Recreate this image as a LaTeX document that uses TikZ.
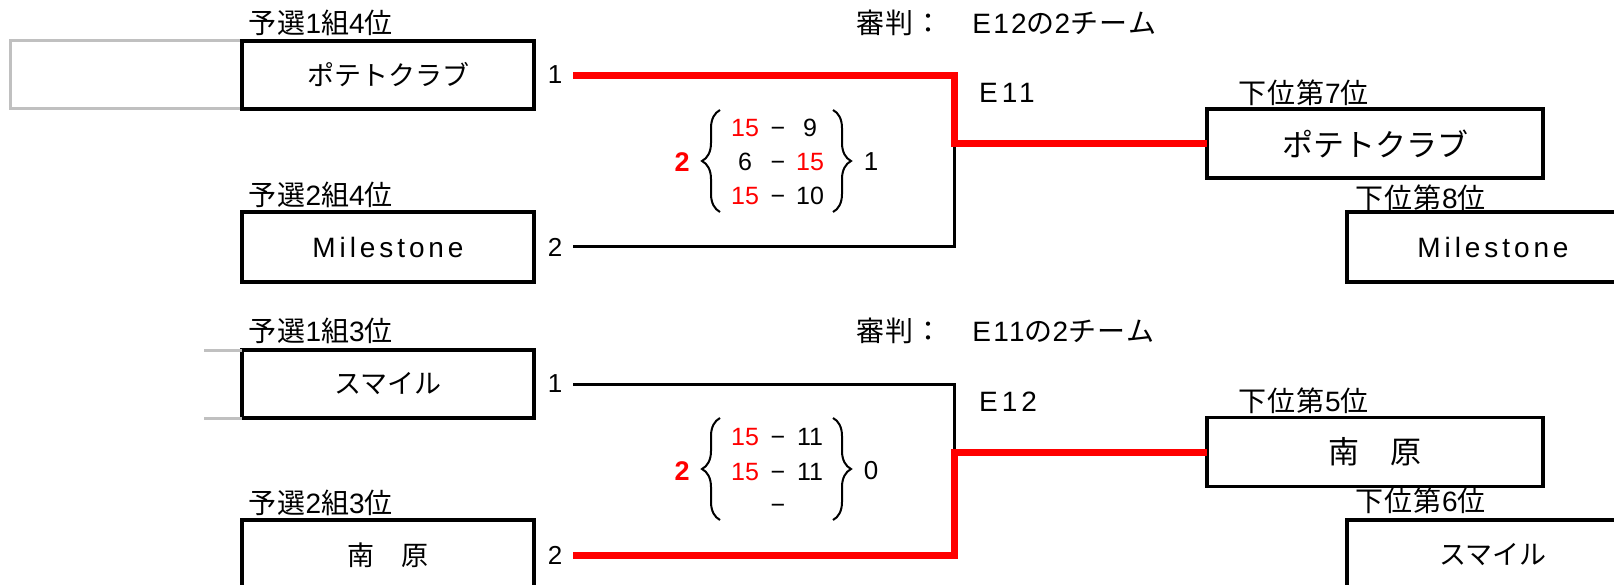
\documentclass[tikz,border=0pt]{standalone}
\usepackage{fontspec}
\setmainfont{Noto Sans CJK JP}
\newfontfamily\jlbl{Noto Sans CJK JP}[LetterSpace=5]
\newfontfamily\latf{Liberation Sans}[LetterSpace=8]
\newfontfamily\latw{Liberation Sans}[LetterSpace=14]
\newfontfamily\scf{Liberation Sans}
\usetikzlibrary{decorations.pathreplacing,calc}
\definecolor{xred}{RGB}{255,0,0}
\definecolor{xgray}{RGB}{192,192,192}
\tikzset{
  teambox/.style={draw=black, line width=3.5pt, rectangle, inner sep=0pt, outer sep=0pt,
    minimum width=292pt, minimum height=68pt, line join=miter, font=\fontsize{27}{31}\selectfont},
  winbox/.style={teambox, minimum width=336pt, minimum height=69pt, font=\fontsize{31}{35}\selectfont},
  latbox/.style={teambox, font=\latw\fontsize{28}{32}\selectfont},
  graybox/.style={draw=xgray, line width=3pt, rectangle, inner sep=0pt, outer sep=0pt, line join=miter},
  grayline/.style={draw=xgray, line width=3pt},
  lbl/.style={anchor=west, inner sep=0pt, font=\jlbl\fontsize{28}{32}\selectfont},
  latlbl/.style={anchor=west, inner sep=0pt, font=\latw\fontsize{28}{32}\selectfont},
  num/.style={inner sep=0pt, font=\scf\fontsize{26}{30}\selectfont},
  sc/.style={inner sep=0pt, anchor=base, font=\scf\fontsize{25}{28}\selectfont},
  winnum/.style={inner sep=0pt, text=xred, font=\scf\bfseries\fontsize{27}{30}\selectfont},
  redline/.style={draw=xred, line width=7pt, line join=miter},
  blkline/.style={draw=black, line width=3pt, line join=miter},
  bracel/.style={decorate, decoration={brace, amplitude=18pt}, line width=2pt},
}
\begin{document}
\begin{tikzpicture}[x=1pt,y=-1pt]
\useasboundingbox (0,0) rectangle (1614,585);
\clip (0,0) rectangle (1614,585);
\fill[white] (0,0) rectangle (1614,585);

% ---------------- top half ----------------
\node[graybox, minimum width=232pt, minimum height=68pt] (g0) at (126,75) {};
\node[lbl] (l1) at (248,23) {予選{\latf 1}組{\latf 4}位};
\node[teambox] (b1) at (388,75) {ポテトクラブ};
\node[lbl] (l2) at (248,195) {予選{\latf 2}組{\latf 4}位};
\node[latbox, minimum height=70pt] (b2) at (388,247) {Milestone};

\node[num] (n1) at ($(b1.east)+(21,0)$) {1};
\node[num] (n2) at ($(b2.east)+(21,0)$) {2};
\coordinate (s1) at ($(b1.east)+(39,1)$);
\coordinate (s2) at ($(b2.east)+(39,0)$);
\coordinate (jx) at (954,0);

\node[lbl] (t1) at (856,23) {審判：　{\latf E12}の{\latf 2}チーム};
\node[latlbl] (e11) at (979,93) {E11};

\node[lbl] (rl1) at (1238,93) {下位第{\latf 7}位};
\node[winbox] (r1) at (1375,143.5) {ポテトクラブ};
\node[lbl] (rl2) at (1355,198) {下位第{\latf 8}位};
\node[latbox, minimum height=70pt] (r2) at (1493,247) {Milestone};

\draw[blkline] (s2) -| (r1.west -| jx);
\draw[redline] (s1) -| (r1.west -| jx) -- (r1.west);

% score E11
\node[winnum] (w1) at (682,162) {2};
\draw[bracel] (720,212) -- (720,110);
\node[sc, text=xred] (a1) at (745,137) {15};
\node[sc] (m1) at (778,137) {−};
\node[sc] (c1) at (810,137) {9};
\node[sc] (a2) at (745,171) {6};
\node[sc] (m2) at (778,171) {−};
\node[sc, text=xred] (c2) at (810,171) {15};
\node[sc, text=xred] (a3) at (745,205) {15};
\node[sc] (m3) at (778,205) {−};
\node[sc] (c3) at (810,205) {10};
\draw[bracel] (833,110) -- (833,212);
\node[num] (v1) at (871,162) {1};

% ---------------- bottom half ----------------
\node[lbl] (l3) at (248,331) {予選{\latf 1}組{\latf 3}位};
\node[teambox] (b3) at (388,384) {スマイル};
\coordinate (gl1) at (204,350);
\coordinate (gl2) at (204,418);
\draw[grayline] (gl1) -- (b3.north west);
\draw[grayline] (gl2) -- (b3.south west);
\node[lbl] (l4) at (248,503) {予選{\latf 2}組{\latf 3}位};
\node[teambox, minimum height=70pt] (b4) at (388,555) {南　原};

\node[num] (n3) at ($(b3.east)+(21,0)$) {1};
\node[num] (n4) at ($(b4.east)+(21,0)$) {2};
\coordinate (s3) at ($(b3.east)+(39,0)$);
\coordinate (s4) at ($(b4.east)+(39,0)$);

\node[lbl] (t2) at (856,331) {審判：　{\latf E11}の{\latf 2}チーム};
\node[latlbl] (e12) at (979,402) {E12};

\node[lbl] (rl3) at (1238,401) {下位第{\latf 5}位};
\node[winbox] (r3) at (1375,452) {南　原};
\node[lbl] (rl4) at (1355,501) {下位第{\latf 6}位};
\node[teambox, minimum height=70pt] (r4) at (1493,555) {スマイル};

\draw[blkline] (s3) -| (r3.west -| jx);
\draw[redline] (s4) -| (r3.west -| jx) -- (r3.west);

% score E12
\node[winnum] (w2) at (682,471) {2};
\draw[bracel] (720,520) -- (720,418);
\node[sc, text=xred] (a4) at (745,445) {15};
\node[sc] (m4) at (778,445) {−};
\node[sc] (c4) at (810,445) {11};
\node[sc, text=xred] (a5) at (745,480) {15};
\node[sc] (m5) at (778,480) {−};
\node[sc] (c5) at (810,480) {11};
\node[sc] (m6) at (778,513) {−};
\draw[bracel] (833,418) -- (833,520);
\node[num] (v2) at (871,471) {0};
\end{tikzpicture}
\end{document}
